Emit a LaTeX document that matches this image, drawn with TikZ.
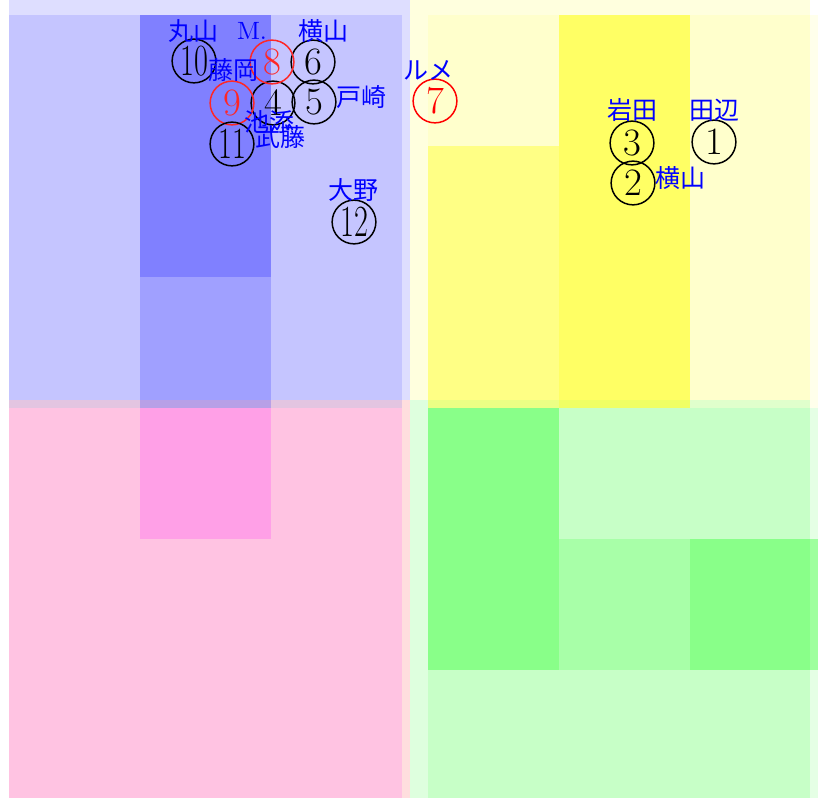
\documentclass[tikz,border=0pt]{standalone}
\usepackage{fontspec}
\usepackage{graphicx}
\usepackage{tikz}
\usetikzlibrary{positioning}
\newfontfamily\jpfont{Noto Sans CJK JP}
\definecolor{zoneblue}{RGB}{0,0,255}
\definecolor{zoneyellow}{RGB}{255,255,0}
\definecolor{zonepink}{RGB}{255,0,255}
\definecolor{zonegreen}{RGB}{0,255,0}
\definecolor{zonered}{RGB}{255,0,0}

\begin{document}
\begin{tikzpicture}[
  x=0.4pt, y=-0.4pt,
  horse/.style={circle, draw, line width=0.6pt, minimum size=17.5pt,
                inner sep=0pt, font=\fontsize{15.5}{15.5}\selectfont},
  horsered/.style={horse, draw=zonered!85, text=zonered!85},
  jockey/.style={inner sep=0pt, text=zoneblue, font=\jpfont\fontsize{10}{10}\selectfont}
]
\useasboundingbox (0,0) rectangle (818,798);

% quadrant backgrounds
\fill[zoneblue!13] (9,0) rectangle (410,400);
\fill[zoneyellow!13] (410,0) rectangle (810,400);
\fill[zonered!13] (9,400) rectangle (410,798);
\fill[zonegreen!13] (410,400) rectangle (810,798);

% 3x3 cells, column/row/opacity
\foreach \c/\r/\a in {0/0/.11, 0/1/.11, 0/2/.11, 1/0/.42, 1/1/.42, 1/2/.28,
                      2/0/.11, 2/1/.11, 2/2/.11}
  \fill[zoneblue, fill opacity=\a] ({9+131*\c},{15+131*\r}) rectangle ++(131,131);
\foreach \c/\r/\a in {0/0/.08, 0/1/.4, 0/2/.4, 1/0/.55, 1/1/.55, 1/2/.55,
                      2/0/.08, 2/1/.08, 2/2/.08}
  \fill[zoneyellow, fill opacity=\a] ({428+131*\c},{15+131*\r}) rectangle ++(131,131);
\foreach \c/\r/\a in {0/0/.12, 0/1/.12, 0/2/.12, 1/0/.28, 1/1/.12, 1/2/.12,
                      2/0/.12, 2/1/.12, 2/2/.12}
  \fill[zonepink, fill opacity=\a] ({9+131*\c},{408+131*\r}) rectangle ++(131,131);
\foreach \c/\r/\a in {0/0/.38, 0/1/.38, 0/2/.1, 1/0/.1, 1/1/.24, 1/2/.1,
                      2/0/.1, 2/1/.38, 2/2/.1}
  \fill[zonegreen, fill opacity=\a] ({428+131*\c},{408+131*\r}) rectangle ++(131,131);

% horses
\node[horse] (h1) at (714,142) {1};
\node[horse] (h2) at (633,183) {2};
\node[horse] (h3) at (632,143) {3};
\node[horse] (h4) at (273,103) {4};
\node[horse] (h5) at (314,102) {5};
\node[horse] (h6) at (313,62) {6};
\node[horse, draw=zonered, text=zonered] (h7) at (435,101) {7};
\node[horsered] (h8) at (272,62) {8};
\node[horsered] (h9) at (232,103) {9};
\node[horse] (h10) at (194,61) {\scalebox{0.78}[1.15]{10}};
\node[horse] (h11) at (232,144) {\scalebox{0.78}[1.15]{11}};
\node[horse] (h12) at (354,222) {\scalebox{0.78}[1.15]{12}};

% jockeys
\node[jockey] (j10) at (193,31) {丸山};
\node[jockey, font=\fontsize{10}{10}\selectfont] (j8) at (252,31) {M.};
\node[jockey] (j6) at (323,31) {横山};
\node[jockey] (j9) at (233,70) {藤岡};
\node[jockey] (j5) at (361,97) {戸崎};
\node[jockey] (j4) at (269,122) {池添};
\node[jockey] (j11) at (280,137) {武藤};
\node[jockey] (j12) at (353,190) {大野};
\node[jockey] (j7) at (428,70) {ルメ};
\node[jockey] (j3) at (632,110) {岩田};
\node[jockey] (j1) at (714,110) {田辺};
\node[jockey] (j2) at (680,178) {横山};
\end{tikzpicture}
\end{document}
